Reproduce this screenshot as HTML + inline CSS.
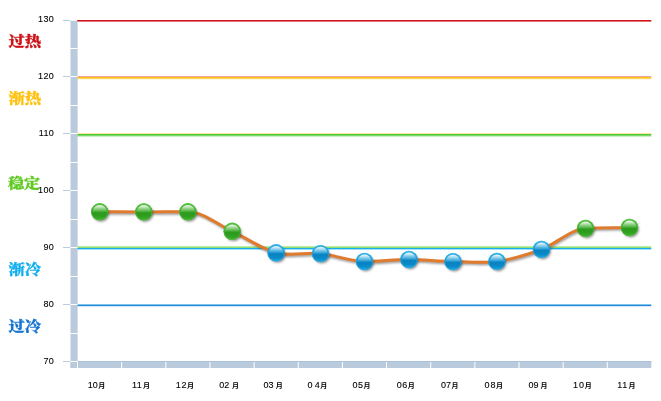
<!DOCTYPE html>
<html lang="zh-CN">
<head>
<meta charset="utf-8">
<title>chart</title>
<style>
html,body{margin:0;padding:0;background:#fff;}
body{width:661px;height:401px;overflow:hidden;position:relative;}
svg{position:absolute;left:0;top:0;display:block;}
.yl{font-family:"Liberation Sans","Noto Sans CJK SC",sans-serif;font-size:9px;fill:#000;stroke:#000;stroke-width:0.1px;text-anchor:end;letter-spacing:0.3px;}
.xl{font-family:"Liberation Sans","Noto Sans CJK SC",sans-serif;font-size:9px;fill:#000;stroke:#000;stroke-width:0.1px;}
.xl .m{font-size:7px;font-weight:700;stroke:none;}
.zl{font-family:"Liberation Serif","Noto Serif CJK SC",serif;font-size:16px;font-weight:900;}
</style>
</head>
<body>
<svg width="661" height="401" viewBox="0 0 661 401">
<defs>
<linearGradient id="gg" x1="0" y1="0" x2="0" y2="1">
<stop offset="0" stop-color="#55c040"/><stop offset="0.46" stop-color="#3aa828"/><stop offset="0.57" stop-color="#2c9a1d"/><stop offset="0.78" stop-color="#30a021"/><stop offset="1" stop-color="#45b332"/>
</linearGradient>
<linearGradient id="bg" x1="0" y1="0" x2="0" y2="1">
<stop offset="0" stop-color="#33b5ea"/><stop offset="0.46" stop-color="#1193d2"/><stop offset="0.57" stop-color="#0882c1"/><stop offset="0.78" stop-color="#0b89c8"/><stop offset="1" stop-color="#22a8e0"/>
</linearGradient>
<linearGradient id="hl" x1="0" y1="0" x2="0" y2="1">
<stop offset="0" stop-color="#fff" stop-opacity="0.95"/><stop offset="0.5" stop-color="#fff" stop-opacity="0.4"/><stop offset="0.88" stop-color="#fff" stop-opacity="0.06"/><stop offset="1" stop-color="#fff" stop-opacity="0"/>
</linearGradient>
<filter id="sh" x="-30%" y="-30%" width="170%" height="170%">
<feGaussianBlur stdDeviation="1.3"/>
</filter>
<filter id="lsh" x="-5%" y="-50%" width="110%" height="200%">
<feGaussianBlur stdDeviation="0.8"/>
</filter>
</defs>

<rect x="77" y="20" width="574.3" height="1" fill="#d0161d"/>
<rect x="77" y="21" width="574.3" height="1" fill="#d0161d" opacity="0.6"/>
<g>
<rect x="77" y="76" width="574.3" height="1" fill="#f3a6a0"/>
<rect x="77" y="77" width="574.3" height="1" fill="#fdc216"/>
<rect x="77" y="78" width="574.3" height="1" fill="#fdc216" opacity="0.7"/>
<rect x="77" y="79" width="574.3" height="1" fill="#fdc216" opacity="0.1"/>
<rect x="77" y="133" width="574.3" height="1" fill="#fde59a"/>
<rect x="77" y="134" width="574.3" height="1" fill="#4fca38"/>
<rect x="77" y="135" width="574.3" height="1" fill="#4fca38" opacity="0.75"/>
<rect x="77" y="136" width="574.3" height="1" fill="#4fca38" opacity="0.3"/>
<rect x="77" y="246" width="574.3" height="1" fill="#8fe070" opacity="0.6"/>
<rect x="77" y="247" width="574.3" height="1" fill="#8fe070"/>
<rect x="77" y="248" width="574.3" height="1" fill="#16b0ee"/>
<rect x="77" y="249" width="574.3" height="1" fill="#16b0ee" opacity="0.4"/>
<rect x="77" y="304" width="574.3" height="1" fill="#7cc4ee"/>
<rect x="77" y="305" width="574.3" height="1" fill="#2a88d7"/>
<rect x="77" y="306" width="574.3" height="1" fill="#2a88d7" opacity="0.2"/>
</g>
<rect x="70.5" y="20.8" width="7.1" height="347.2" fill="#b9cadd"/>
<rect x="70.5" y="361" width="580.8" height="7" fill="#b9cadd"/>
<rect x="77.6" y="361" width="573.7" height="1" fill="#a9c0d9"/>
<rect x="63" y="20" width="7.3" height="1" fill="#bccddf"/>
<rect x="63" y="76" width="7.3" height="1" fill="#bccddf"/>
<rect x="70.3" y="76" width="7.3" height="1" fill="#fff"/>
<rect x="63" y="133" width="7.3" height="1" fill="#bccddf"/>
<rect x="70.3" y="133" width="7.3" height="1" fill="#fff"/>
<rect x="63" y="190" width="7.3" height="1" fill="#bccddf"/>
<rect x="70.3" y="190" width="7.3" height="1" fill="#fff"/>
<rect x="63" y="247" width="7.3" height="1" fill="#bccddf"/>
<rect x="70.3" y="247" width="7.3" height="1" fill="#fff"/>
<rect x="63" y="304" width="7.3" height="1" fill="#bccddf"/>
<rect x="70.3" y="304" width="7.3" height="1" fill="#fff"/>
<rect x="63" y="361" width="7.3" height="1" fill="#bccddf"/>
<rect x="70.3" y="361" width="7.3" height="1" fill="#fff"/>
<rect x="70.3" y="48" width="7.3" height="1" fill="#fff"/>
<rect x="70.3" y="105" width="7.3" height="1" fill="#fff"/>
<rect x="70.3" y="162" width="7.3" height="1" fill="#fff"/>
<rect x="70.3" y="219" width="7.3" height="1" fill="#fff"/>
<rect x="70.3" y="276" width="7.3" height="1" fill="#fff"/>
<rect x="70.3" y="333" width="7.3" height="1" fill="#fff"/>
<rect x="77.00" y="362" width="1" height="6.5" fill="#fff"/>
<rect x="121.15" y="362" width="1" height="6.5" fill="#fff"/>
<rect x="165.30" y="362" width="1" height="6.5" fill="#fff"/>
<rect x="209.45" y="362" width="1" height="6.5" fill="#fff"/>
<rect x="253.60" y="362" width="1" height="6.5" fill="#fff"/>
<rect x="297.75" y="362" width="1" height="6.5" fill="#fff"/>
<rect x="341.90" y="362" width="1" height="6.5" fill="#fff"/>
<rect x="386.05" y="362" width="1" height="6.5" fill="#fff"/>
<rect x="430.20" y="362" width="1" height="6.5" fill="#fff"/>
<rect x="474.35" y="362" width="1" height="6.5" fill="#fff"/>
<rect x="518.50" y="362" width="1" height="6.5" fill="#fff"/>
<rect x="562.65" y="362" width="1" height="6.5" fill="#fff"/>
<rect x="606.80" y="362" width="1" height="6.5" fill="#fff"/>
<path d="M99.70,211.80 C114.40,211.83 129.10,211.90 143.80,211.90 C158.50,211.90 173.20,211.80 187.90,211.80 C202.67,211.80 217.43,224.43 232.20,231.30 C246.83,238.10 261.47,249.08 276.10,252.80 C290.90,256.56 305.70,252.14 320.50,253.60 C335.17,255.05 349.83,261.50 364.50,261.50 C379.33,261.50 394.17,259.50 409.00,259.50 C423.67,259.50 438.33,261.60 453.00,261.60 C467.63,261.60 482.27,263.40 496.90,261.40 C511.77,259.37 526.63,254.95 541.50,249.40 C556.17,243.93 570.83,229.13 585.50,228.40 C600.17,227.67 614.83,227.80 629.50,227.50" fill="none" stroke="#444" stroke-opacity="0.55" stroke-width="2.8" transform="translate(1,1.5)" filter="url(#lsh)"/>
<path d="M99.70,211.80 C114.40,211.83 129.10,211.90 143.80,211.90 C158.50,211.90 173.20,211.80 187.90,211.80 C202.67,211.80 217.43,224.43 232.20,231.30 C246.83,238.10 261.47,249.08 276.10,252.80 C290.90,256.56 305.70,252.14 320.50,253.60 C335.17,255.05 349.83,261.50 364.50,261.50 C379.33,261.50 394.17,259.50 409.00,259.50 C423.67,259.50 438.33,261.60 453.00,261.60 C467.63,261.60 482.27,263.40 496.90,261.40 C511.77,259.37 526.63,254.95 541.50,249.40 C556.17,243.93 570.83,229.13 585.50,228.40 C600.17,227.67 614.83,227.80 629.50,227.50" fill="none" stroke="#e07a2c" stroke-width="3" stroke-linejoin="round" stroke-linecap="round"/>
<g transform="translate(99.7,211.8)">
<circle cx="1.4" cy="1.8" r="8.2" fill="#333" opacity="0.5" filter="url(#sh)"/>
<circle r="8.7" fill="url(#gg)"/>
<circle r="8.2" fill="none" stroke="#58c343" stroke-width="1" opacity="0.55"/>
<path d="M-7.3,0.6 A7.3,7.3 0 0 1 7.3,0.6 Q0,1.8 -7.3,0.6 Z" fill="url(#hl)" transform="translate(0,-0.2)"/>
</g>
<g transform="translate(143.8,211.9)">
<circle cx="1.4" cy="1.8" r="8.2" fill="#333" opacity="0.5" filter="url(#sh)"/>
<circle r="8.7" fill="url(#gg)"/>
<circle r="8.2" fill="none" stroke="#58c343" stroke-width="1" opacity="0.55"/>
<path d="M-7.3,0.6 A7.3,7.3 0 0 1 7.3,0.6 Q0,1.8 -7.3,0.6 Z" fill="url(#hl)" transform="translate(0,-0.2)"/>
</g>
<g transform="translate(187.9,211.8)">
<circle cx="1.4" cy="1.8" r="8.2" fill="#333" opacity="0.5" filter="url(#sh)"/>
<circle r="8.7" fill="url(#gg)"/>
<circle r="8.2" fill="none" stroke="#58c343" stroke-width="1" opacity="0.55"/>
<path d="M-7.3,0.6 A7.3,7.3 0 0 1 7.3,0.6 Q0,1.8 -7.3,0.6 Z" fill="url(#hl)" transform="translate(0,-0.2)"/>
</g>
<g transform="translate(232.2,231.3)">
<circle cx="1.4" cy="1.8" r="8.2" fill="#333" opacity="0.5" filter="url(#sh)"/>
<circle r="8.7" fill="url(#gg)"/>
<circle r="8.2" fill="none" stroke="#58c343" stroke-width="1" opacity="0.55"/>
<path d="M-7.3,0.6 A7.3,7.3 0 0 1 7.3,0.6 Q0,1.8 -7.3,0.6 Z" fill="url(#hl)" transform="translate(0,-0.2)"/>
</g>
<g transform="translate(276.1,252.8)">
<circle cx="1.4" cy="1.8" r="8.2" fill="#333" opacity="0.5" filter="url(#sh)"/>
<circle r="8.7" fill="url(#bg)"/>
<circle r="8.2" fill="none" stroke="#35b4ea" stroke-width="1" opacity="0.55"/>
<path d="M-7.3,0.6 A7.3,7.3 0 0 1 7.3,0.6 Q0,1.8 -7.3,0.6 Z" fill="url(#hl)" transform="translate(0,-0.2)"/>
</g>
<g transform="translate(320.5,253.6)">
<circle cx="1.4" cy="1.8" r="8.2" fill="#333" opacity="0.5" filter="url(#sh)"/>
<circle r="8.7" fill="url(#bg)"/>
<circle r="8.2" fill="none" stroke="#35b4ea" stroke-width="1" opacity="0.55"/>
<path d="M-7.3,0.6 A7.3,7.3 0 0 1 7.3,0.6 Q0,1.8 -7.3,0.6 Z" fill="url(#hl)" transform="translate(0,-0.2)"/>
</g>
<g transform="translate(364.5,261.5)">
<circle cx="1.4" cy="1.8" r="8.2" fill="#333" opacity="0.5" filter="url(#sh)"/>
<circle r="8.7" fill="url(#bg)"/>
<circle r="8.2" fill="none" stroke="#35b4ea" stroke-width="1" opacity="0.55"/>
<path d="M-7.3,0.6 A7.3,7.3 0 0 1 7.3,0.6 Q0,1.8 -7.3,0.6 Z" fill="url(#hl)" transform="translate(0,-0.2)"/>
</g>
<g transform="translate(409.0,259.5)">
<circle cx="1.4" cy="1.8" r="8.2" fill="#333" opacity="0.5" filter="url(#sh)"/>
<circle r="8.7" fill="url(#bg)"/>
<circle r="8.2" fill="none" stroke="#35b4ea" stroke-width="1" opacity="0.55"/>
<path d="M-7.3,0.6 A7.3,7.3 0 0 1 7.3,0.6 Q0,1.8 -7.3,0.6 Z" fill="url(#hl)" transform="translate(0,-0.2)"/>
</g>
<g transform="translate(453.0,261.6)">
<circle cx="1.4" cy="1.8" r="8.2" fill="#333" opacity="0.5" filter="url(#sh)"/>
<circle r="8.7" fill="url(#bg)"/>
<circle r="8.2" fill="none" stroke="#35b4ea" stroke-width="1" opacity="0.55"/>
<path d="M-7.3,0.6 A7.3,7.3 0 0 1 7.3,0.6 Q0,1.8 -7.3,0.6 Z" fill="url(#hl)" transform="translate(0,-0.2)"/>
</g>
<g transform="translate(496.9,261.4)">
<circle cx="1.4" cy="1.8" r="8.2" fill="#333" opacity="0.5" filter="url(#sh)"/>
<circle r="8.7" fill="url(#bg)"/>
<circle r="8.2" fill="none" stroke="#35b4ea" stroke-width="1" opacity="0.55"/>
<path d="M-7.3,0.6 A7.3,7.3 0 0 1 7.3,0.6 Q0,1.8 -7.3,0.6 Z" fill="url(#hl)" transform="translate(0,-0.2)"/>
</g>
<g transform="translate(541.5,249.4)">
<circle cx="1.4" cy="1.8" r="8.2" fill="#333" opacity="0.5" filter="url(#sh)"/>
<circle r="8.7" fill="url(#bg)"/>
<circle r="8.2" fill="none" stroke="#35b4ea" stroke-width="1" opacity="0.55"/>
<path d="M-7.3,0.6 A7.3,7.3 0 0 1 7.3,0.6 Q0,1.8 -7.3,0.6 Z" fill="url(#hl)" transform="translate(0,-0.2)"/>
</g>
<g transform="translate(585.5,228.4)">
<circle cx="1.4" cy="1.8" r="8.2" fill="#333" opacity="0.5" filter="url(#sh)"/>
<circle r="8.7" fill="url(#gg)"/>
<circle r="8.2" fill="none" stroke="#58c343" stroke-width="1" opacity="0.55"/>
<path d="M-7.3,0.6 A7.3,7.3 0 0 1 7.3,0.6 Q0,1.8 -7.3,0.6 Z" fill="url(#hl)" transform="translate(0,-0.2)"/>
</g>
<g transform="translate(629.5,227.5)">
<circle cx="1.4" cy="1.8" r="8.2" fill="#333" opacity="0.5" filter="url(#sh)"/>
<circle r="8.7" fill="url(#gg)"/>
<circle r="8.2" fill="none" stroke="#58c343" stroke-width="1" opacity="0.55"/>
<path d="M-7.3,0.6 A7.3,7.3 0 0 1 7.3,0.6 Q0,1.8 -7.3,0.6 Z" fill="url(#hl)" transform="translate(0,-0.2)"/>
</g>
<text class="yl" x="54" y="22.0">130</text>
<text class="yl" x="54" y="79.0">120</text>
<text class="yl" x="54" y="136.0">110</text>
<text class="yl" x="54" y="193.0">100</text>
<text class="yl" x="54" y="250.0">90</text>
<text class="yl" x="54" y="307.0">80</text>
<text class="yl" x="54" y="364.0">70</text>
<text class="xl" y="388.3"><tspan class="d" x="87.8">10</tspan><tspan class="m" x="98.3">月</tspan></text>
<text class="xl" y="388.3"><tspan class="d" x="131.9" letter-spacing="0.5">11</tspan><tspan class="m" x="143.0">月</tspan></text>
<text class="xl" y="388.3"><tspan class="d" x="175.7" letter-spacing="0.7">12</tspan><tspan class="m" x="187.0">月</tspan></text>
<text class="xl" y="388.3"><tspan class="d" x="219.2">02</tspan><tspan class="m" x="231.9">月</tspan></text>
<text class="xl" y="388.3"><tspan class="d" x="263.4">03</tspan><tspan class="m" x="275.8">月</tspan></text>
<text class="xl" y="388.3"><tspan class="d" x="307.6" letter-spacing="2.1">04</tspan><tspan class="m" x="320.3">月</tspan></text>
<text class="xl" y="388.3"><tspan class="d" x="352.6" letter-spacing="0.4">05</tspan><tspan class="m" x="363.6">月</tspan></text>
<text class="xl" y="388.3"><tspan class="d" x="396.8" letter-spacing="0.4">06</tspan><tspan class="m" x="407.8">月</tspan></text>
<text class="xl" y="388.3"><tspan class="d" x="440.9" letter-spacing="0.1">07</tspan><tspan class="m" x="451.6">月</tspan></text>
<text class="xl" y="388.3"><tspan class="d" x="484.6" letter-spacing="0.9">08</tspan><tspan class="m" x="496.1">月</tspan></text>
<text class="xl" y="388.3"><tspan class="d" x="528.6">09</tspan><tspan class="m" x="540.6">月</tspan></text>
<text class="xl" y="388.3"><tspan class="d" x="572.9" letter-spacing="1.2">10</tspan><tspan class="m" x="584.7">月</tspan></text>
<text class="xl" y="388.3"><tspan class="d" x="617.3" letter-spacing="0.5">11</tspan><tspan class="m" x="628.4">月</tspan></text>
<text class="zl" transform="translate(8.4,46.0) scale(1.02,0.86)" fill="#cc1016" stroke="#cc1016" stroke-width="0.3">过热</text>
<text class="zl" transform="translate(8.4,103.0) scale(1.02,0.86)" fill="#ffc10e" stroke="#ffc10e" stroke-width="0.3">渐热</text>
<text class="zl" transform="translate(7.9,188.3) scale(1.01,0.86)" fill="#5fca22" stroke="#5fca22" stroke-width="0.3">稳定</text>
<text class="zl" transform="translate(8.4,274.0) scale(1.02,0.86)" fill="#12aeef" stroke="#12aeef" stroke-width="0.3">渐冷</text>
<text class="zl" transform="translate(8.4,330.6) scale(1.02,0.86)" fill="#1474d0" stroke="#1474d0" stroke-width="0.3">过冷</text>
</svg>
</body>
</html>
